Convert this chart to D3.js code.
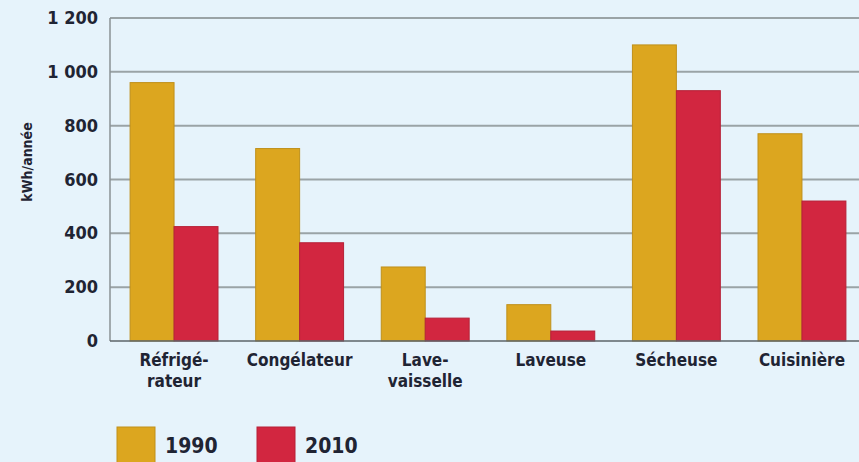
<!DOCTYPE html>
<html>
<head>
<meta charset="utf-8">
<style>
  body { margin: 0; background: #e6f3fb; }
  svg { display: block; }
  text { font-family: "Liberation Sans Narrow", "DejaVu Sans Condensed", "Liberation Sans", sans-serif; font-weight: bold; fill: #1f2433; }
</style>
</head>
<body>
<svg width="859" height="462"></svg>
<script src="https://d3js.org/d3.v7.min.js"></script>
<script>
// appareils et consommation (kWh/année)
var categories = ["Réfrigé-|rateur", "Congélateur", "Lave-|vaisselle", "Laveuse", "Sécheuse", "Cuisinière"];
var years = ["1990", "2010"];
var values1990 = [960, 715, 275, 135, 1100, 770];
var values2010 = [425, 365, 85, 37, 930, 520];
var yTicks = [0, 200, 400, 600, 800, 1000, 1200];
var colors = ["#dca61f", "#d22640"];

var svg = d3.select("svg");
var plotLeft = 110, plotRight = 866, plotTop = 18, plotBottom = 341;

var x0 = d3.scaleBand()
  .domain(categories)
  .range([plotLeft, plotRight])
  .paddingInner(0.3)
  .paddingOuter(0.16);

var x1 = d3.scaleBand()
  .domain(years)
  .range([0, x0.bandwidth()]);

var y = d3.scaleLinear().domain([0, 1200]).range([plotBottom, plotTop]);

var fmt = function(d) { return d3.format(",")(d).replace(",", " "); };

// gridlines
svg.append("g")
  .selectAll("line")
  .data(yTicks.slice(1))
  .enter()
  .append("line")
  .attr("x1", plotLeft).attr("x2", 859)
  .attr("y1", function(d) { return y(d); })
  .attr("y2", function(d) { return y(d); })
  .style("stroke", "#9aa3a6")
  .style("stroke-width", "2px");

// tick labels
svg.append("g")
  .selectAll("text")
  .data(yTicks)
  .enter()
  .append("text")
  .attr("x", 98)
  .attr("y", function(d) { return y(d) + 6; })
  .attr("text-anchor", "end")
  .style("font-size", "18px")
  .text(fmt);

// y label
svg.append("text")
  .attr("transform", "translate(32,162) rotate(-90)")
  .attr("text-anchor", "middle")
  .style("font-size", "14px")
  .text("kWh/année");

var data = categories.map(function(c, i) {
  return { cat: c, vals: [{ y: "1990", v: values1990[i] }, { y: "2010", v: values2010[i] }] };
});

var groups = svg.append("g")
  .selectAll("g")
  .data(data)
  .enter()
  .append("g")
  .attr("transform", function(d) { return "translate(" + x0(d.cat) + ",0)"; });

groups.selectAll("rect")
  .data(function(d) { return d.vals; })
  .enter()
  .append("rect")
  .attr("x", function(d) { return x1(d.y); })
  .attr("y", function(d) { return y(d.v); })
  .attr("width", x1.bandwidth())
  .attr("height", function(d) { return y(0) - y(d.v); })
  .style("fill", function(d, i) { return colors[i]; })
  .style("stroke", function(d, i) { return d3.color(colors[i]).darker(0.4); })
  .style("stroke-width", "1px");

// axes lines
svg.append("line")
  .attr("x1", plotLeft).attr("x2", plotLeft)
  .attr("y1", plotTop).attr("y2", plotBottom)
  .style("stroke", "#8a9295").style("stroke-width", "1.5px");
svg.append("line")
  .attr("x1", plotLeft).attr("x2", 859)
  .attr("y1", plotBottom).attr("y2", plotBottom)
  .style("stroke", "#5c6468").style("stroke-width", "1.5px");

// category labels
var lab = svg.append("g")
  .selectAll("text")
  .data(categories)
  .enter()
  .append("text")
  .attr("x", function(d) { return x0(d) + x0.bandwidth() / 2; })
  .attr("y", 366)
  .attr("text-anchor", "middle")
  .style("font-size", "17px");

lab.selectAll("tspan")
  .data(function(d) { return d.split("|"); })
  .enter()
  .append("tspan")
  .attr("x", function() { return d3.select(this.parentNode).attr("x"); })
  .attr("dy", function(d, i) { return i == 0 ? 0 : 21; })
  .text(function(d) { return d; });

// legend
var leg = svg.append("g")
  .selectAll("g")
  .data(years)
  .enter()
  .append("g")
  .attr("transform", function(d, i) { return "translate(" + (117 + i * 140) + ",427)"; });

leg.append("rect")
  .attr("width", 38).attr("height", 36)
  .style("fill", function(d, i) { return colors[i]; })
  .style("stroke", function(d, i) { return d3.color(colors[i]).darker(0.4); });

leg.append("text")
  .attr("x", 48).attr("y", 26)
  .style("font-size", "21px")
  .text(function(d) { return d; });
</script>
</body>
</html>
